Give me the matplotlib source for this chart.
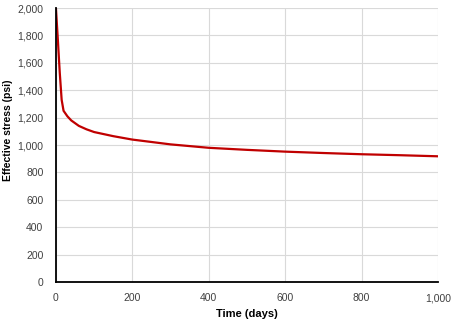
import matplotlib
matplotlib.use("Agg")
import matplotlib.pyplot as plt
from matplotlib.ticker import FuncFormatter, MultipleLocator

# time (days) vs effective stress (psi)
time_days = [0, 5, 10, 15, 20, 30, 40, 60, 80, 100, 150, 200, 300, 400, 500, 600, 700, 800, 900, 1000]
stress_psi = [2000, 1770, 1530, 1330, 1250, 1210, 1180, 1140, 1115, 1095, 1065, 1040, 1005, 980, 965, 952, 942, 933, 926, 918]

plt.rcParams['font.family'] = ['Liberation Sans', 'DejaVu Sans']

fig = plt.figure(figsize=(4.51, 3.22), dpi=100)
ax = fig.add_axes([0.124, 0.124, 0.847, 0.851])

ax.plot(time_days, stress_psi, color='#c00000', lw=1.6, solid_capstyle='round')

ax.set_xlim(0, 1000)
ax.set_ylim(0, 2000)
ax.xaxis.set_major_locator(MultipleLocator(200))
ax.yaxis.set_major_locator(MultipleLocator(200))
fmt = FuncFormatter(lambda v, p: f'{int(v):,}')
ax.xaxis.set_major_formatter(fmt)
ax.yaxis.set_major_formatter(fmt)

ax.grid(True, color='#d9d9d9', lw=0.8)
ax.set_axisbelow(True)
for s in ['top', 'right']:
    ax.spines[s].set_visible(False)
for s in ['left', 'bottom']:
    ax.spines[s].set_color('black')
    ax.spines[s].set_linewidth(1.3)

ax.tick_params(axis='both', length=0, labelsize=7.5, labelcolor='#404040')
ax.tick_params(axis='y', pad=9)
ax.tick_params(axis='x', pad=8)

ax.set_xlabel('Time (days)', fontsize=8, fontweight='bold')
ax.set_ylabel('Effective stress (psi)', fontsize=7.5, fontweight='bold')
ax.xaxis.set_label_coords(0.5, -0.097)
ax.yaxis.set_label_coords(-0.113, 0.555)

fig.savefig('out.png', dpi=100)
